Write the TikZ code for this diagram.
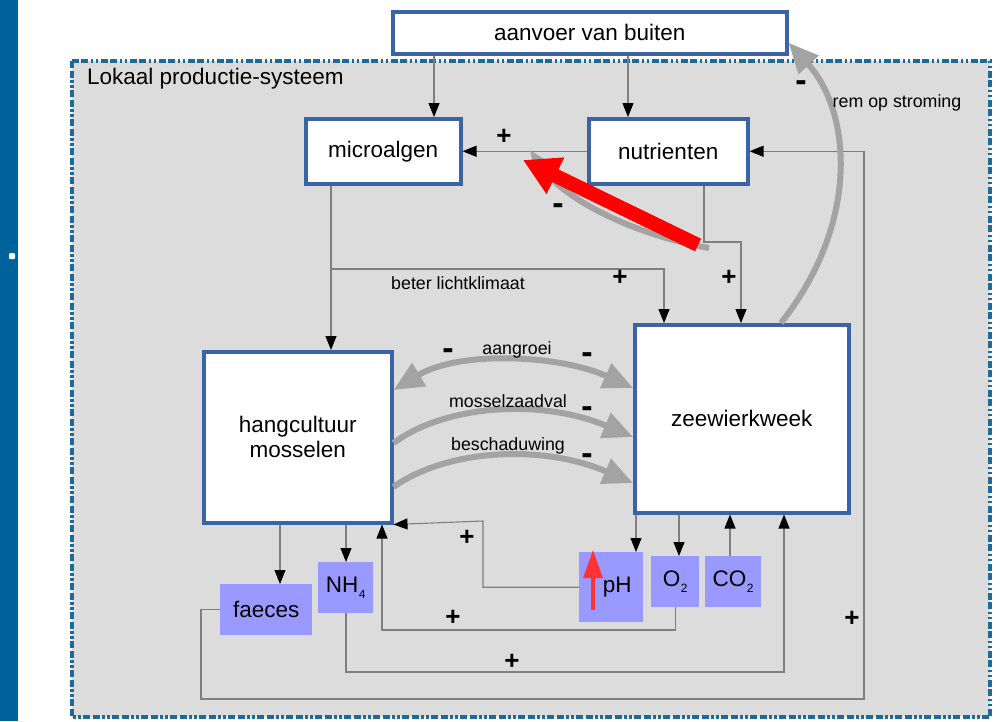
\documentclass[tikz,border=0pt]{standalone}
\usepackage{fontspec}
\setmainfont{Liberation Sans}
\usetikzlibrary{arrows.meta}
\definecolor{boxblue}{HTML}{3A64A5}
\definecolor{frameblue}{HTML}{1B6A9C}
\definecolor{barblue}{HTML}{00629B}
\definecolor{panelgrey}{HTML}{DCDCDC}
\definecolor{chem}{HTML}{9999FF}
\definecolor{linkgrey}{HTML}{7F7F7F}
\definecolor{flowgrey}{HTML}{A3A3A3}
\definecolor{alertred}{HTML}{FF0000}
\definecolor{phred}{HTML}{FF3333}
\newcommand{\chemsub}[1]{\kern0.5pt\raisebox{-0.55ex}{\fontsize{12}{12}\selectfont #1}}
\begin{document}
\begin{tikzpicture}[x=1pt,y=-1pt,
  mainbox/.style={draw=boxblue, line width=3.5pt, fill=white, anchor=north west,
    inner sep=0pt, font=\fontsize{22.5}{25}\selectfont, align=center},
  chembox/.style={fill=chem, anchor=north west, inner sep=0pt,
    font=\fontsize{22.5}{25}\selectfont},
  link/.style={draw=linkgrey, line width=1.1pt,
    -{Triangle[length=14pt,width=11pt,color=black]}},
  flowtip/.style={-{Triangle[length=30pt,width=26pt]}},
  flow/.style={draw=flowgrey, line width=6pt},
  lbl/.style={font=\fontsize{17.8}{20}\selectfont, inner sep=0pt},
  plussign/.style={font=\bfseries\fontsize{26}{28}\selectfont, inner sep=0pt},
  minsign/.style={font=\bfseries\fontsize{34}{36}\selectfont, inner sep=0pt},
]
\useasboundingbox (0,0) rectangle (1000,721);

% side bar
\fill[barblue] (0,0) rectangle (18,721);
\fill[white, rounded corners=1pt] (9,253) rectangle (15,259);

% local production system frame
\fill[panelgrey] (72,61) rectangle (990,717);
\draw[frameblue, line width=3.8pt,
  dash pattern=on 7pt off 2.5pt on 7pt off 2.5pt on 2.5pt off 2.5pt on 2.5pt off 2.5pt]
  (72,61) rectangle (990,717);
\node[anchor=west, inner sep=0pt, font=\fontsize{22.5}{25}\selectfont]
  (systitle) at (87,79) {Lokaal productie-systeem};

% main boxes
\node[mainbox, minimum width=394pt, minimum height=42pt] (aanvoer) at (391,10) {aanvoer van buiten};
\node[mainbox, minimum width=155pt, minimum height=65pt] (micro) at (304,117) {microalgen};
\node[mainbox, minimum width=159pt, minimum height=65pt] (nutr) at (587,117) {nutrienten};
\node[mainbox, minimum width=188pt, minimum height=171pt] (hang) at (202,350) {hangcultuur\\mosselen};
\node[mainbox, minimum width=214pt, minimum height=188pt] (zee) at (633,323) {zeewierkweek};

% substances
\node[chembox, minimum width=92pt, minimum height=51pt] (faeces) at (220,584) {faeces};
\node[chembox, minimum width=55pt, minimum height=51pt] (nh4) at (318,562) {NH\chemsub{4}};
\node[chembox, minimum width=64pt, minimum height=70pt] (ph) at (579,552) {\hspace*{12pt}pH};
\node[chembox, minimum width=48pt, minimum height=51pt] (o2) at (651,556) {O\chemsub{2}};
\node[chembox, minimum width=56pt, minimum height=51pt] (co2) at (705,556) {CO\chemsub{2}};

% thin causal links
\draw[link] (aanvoer.south -| 434,0) -- (micro.north -| 434,0);
\draw[link] (aanvoer.south -| 628,0) -- (nutr.north -| 628,0);
\draw[link] (nutr.west) -- (micro.east);
\draw[link] (nutr.south -| 704,0) -- (704,242) -- (741,242) -- (zee.north -| 741,0);
\draw[link] (micro.south -| 331,0) -- (hang.north -| 331,0);
\coordinate (lightsplit) at (331,269);
\draw[link] (lightsplit) -- (664,269) -- (zee.north -| 664,0);
\draw[link] (faeces.west) -| (201,699) -- (864,699) |- (nutr.east);
\draw[link] (hang.south -| 280,0) -- (faeces.north -| 280,0);
\draw[link] (hang.south -| 346,0) -- (nh4.north -| 346,0);
\draw[link] (nh4.south -| 346,0) -- (346,672) -| (zee.south -| 784,0);
\draw[link] (ph.west) -| (483,521) -- (hang.south east);
\draw[link] (o2.south) |- (382,630) -- (hang.south -| 382,0);
\draw[link] (zee.south -| 636,0) -- (ph.north -| 636,0);
\draw[link] (zee.south -| 679,0) -- (o2.north -| 679,0);
\draw[link] (co2.north -| 730,0) -- (zee.south -| 730,0);

% thick interaction arrows
\draw[flow, flowtip] (zee.north -| 781,0) .. controls (862,220) and (850,110) .. ([yshift=-10pt]aanvoer.east);
\draw[flow, {Triangle[length=30pt,width=26pt]}-{Triangle[length=30pt,width=26pt]}]
  (hang.east |- 0,390) .. controls (460,350) and (560,355) .. (zee.west |- 0,388);
\draw[flow, flowtip] (hang.east |- 0,443) .. controls (445,405) and (540,398) .. (zee.west |- 0,437);
\draw[flow, flowtip] (hang.east |- 0,487) .. controls (445,450) and (540,443) .. (zee.west |- 0,483);
\coordinate (shadestart) at (709,248);
\coordinate (shadeend) at (530,150);
\draw[flow, -{Triangle[length=20pt,width=16pt]}] (shadestart) .. controls (640,236) and (565,202) .. (shadeend);

% red shift arrows
\coordinate (redstart) at (698,245);
\coordinate (redend) at (523,160);
\draw[alertred, line width=14pt, -{Triangle[length=36pt,width=38pt]}] (redstart) -- (redend);
\coordinate (phlow) at (593,610);
\coordinate (phhigh) at (593,550);
\draw[phred, line width=3.5pt, -{Triangle[length=28pt,width=19pt]}] (phlow) -- (phhigh);

% labels
\node[lbl] (lblicht) at (458,283) {beter lichtklimaat};
\node[lbl] (lbrem) at (897,103) {rem op stroming};
\node[lbl] (lbgroei) at (517,350) {aangroei};
\node[lbl] (lbzaad) at (508,401) {mosselzaadval};
\node[lbl] (lbschad) at (508,446) {beschaduwing};

% signs
\node[plussign] (s1) at (504,137) {+};
\node[plussign] (s2) at (620,278) {+};
\node[plussign] (s3) at (729,278) {+};
\node[minsign] (s4) at (558,209) {-};
\node[minsign] (s5) at (801,86) {-};
\node[minsign] (s6) at (448,354) {-};
\node[minsign] (s7) at (587,358) {-};
\node[minsign] (s8) at (587,412) {-};
\node[minsign] (s9) at (587,459) {-};
\node[plussign] (s10) at (467,538) {+};
\node[plussign] (s11) at (453,618) {+};
\node[plussign] (s12) at (512,662) {+};
\node[plussign] (s13) at (852,619) {+};
\end{tikzpicture}
\end{document}
